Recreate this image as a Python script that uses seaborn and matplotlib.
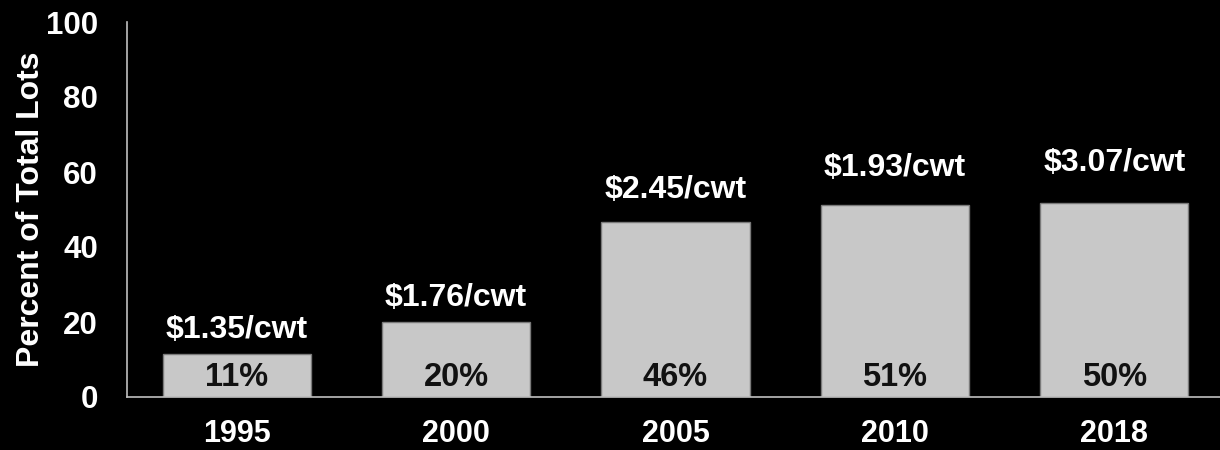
import matplotlib
matplotlib.use('Agg')
import pandas as pd
import matplotlib.pyplot as plt
import seaborn as sns

years = ['1995', '2000', '2005', '2010', '2018']
bar_heights = [11.6, 20.1, 46.6, 51.2, 51.8]
share_labels = ['11%', '20%', '46%', '51%', '50%']
price_labels = ['$1.35/cwt', '$1.76/cwt', '$2.45/cwt', '$1.93/cwt', '$3.07/cwt']
y_ticks = [0, 20, 40, 60, 80, 100]

# gap between bar top and price label centre, in data units
price_pad = [6.3, 6.3, 8.6, 9.9, 10.6]


def main():
    sns.set_style('white')
    plt.rcParams['font.family'] = ['Liberation Sans', 'DejaVu Sans']
    plt.rcParams['font.weight'] = 'bold'

    data = pd.DataFrame({'year': years, 'pct': bar_heights})

    fig = plt.figure(figsize=(12.2, 4.5), dpi=100, facecolor='black')
    ax = fig.add_axes([127 / 1220, 1 - 397 / 450, 1097 / 1220, 375 / 450])
    ax.set_facecolor('black')

    sns.barplot(
        data=data,
        x='year',
        y='pct',
        ax=ax,
        color='#c8c8c8',
        saturation=1,
        width=0.675,
        edgecolor='#7a7a7a',
        linewidth=1,
    )

    for i, (h, share, price) in enumerate(zip(bar_heights, share_labels, price_labels)):
        ax.text(i, 5.3, share, ha='center', va='center', fontsize=23.5,
                fontweight='bold', color='#111111')
        ax.text(i, h + price_pad[i], price, ha='center', va='center', fontsize=23,
                fontweight='bold', color='white')

    ax.set_xlim(-0.5, 4.5)
    ax.set_ylim(0, 100)
    ax.set_yticks(y_ticks)
    ax.set_yticklabels([str(t) for t in y_ticks], fontsize=22.5, fontweight='bold', color='white')
    ax.set_xticks(range(len(years)))
    ax.set_xticklabels(years, fontsize=22, fontweight='bold', color='white')
    ax.tick_params(axis='y', length=0, pad=21)
    ax.tick_params(axis='x', length=0, pad=16)
    ax.set_xlabel('')
    ax.set_ylabel('Percent of Total Lots', fontsize=23, fontweight='bold', color='white', labelpad=0)

    for side in ['top', 'right']:
        ax.spines[side].set_visible(False)
    for side in ['left', 'bottom']:
        ax.spines[side].set_color('#bfbfbf')
        ax.spines[side].set_linewidth(1.2)

    fig.savefig('out.png', facecolor='black')


if __name__ == '__main__':
    main()
